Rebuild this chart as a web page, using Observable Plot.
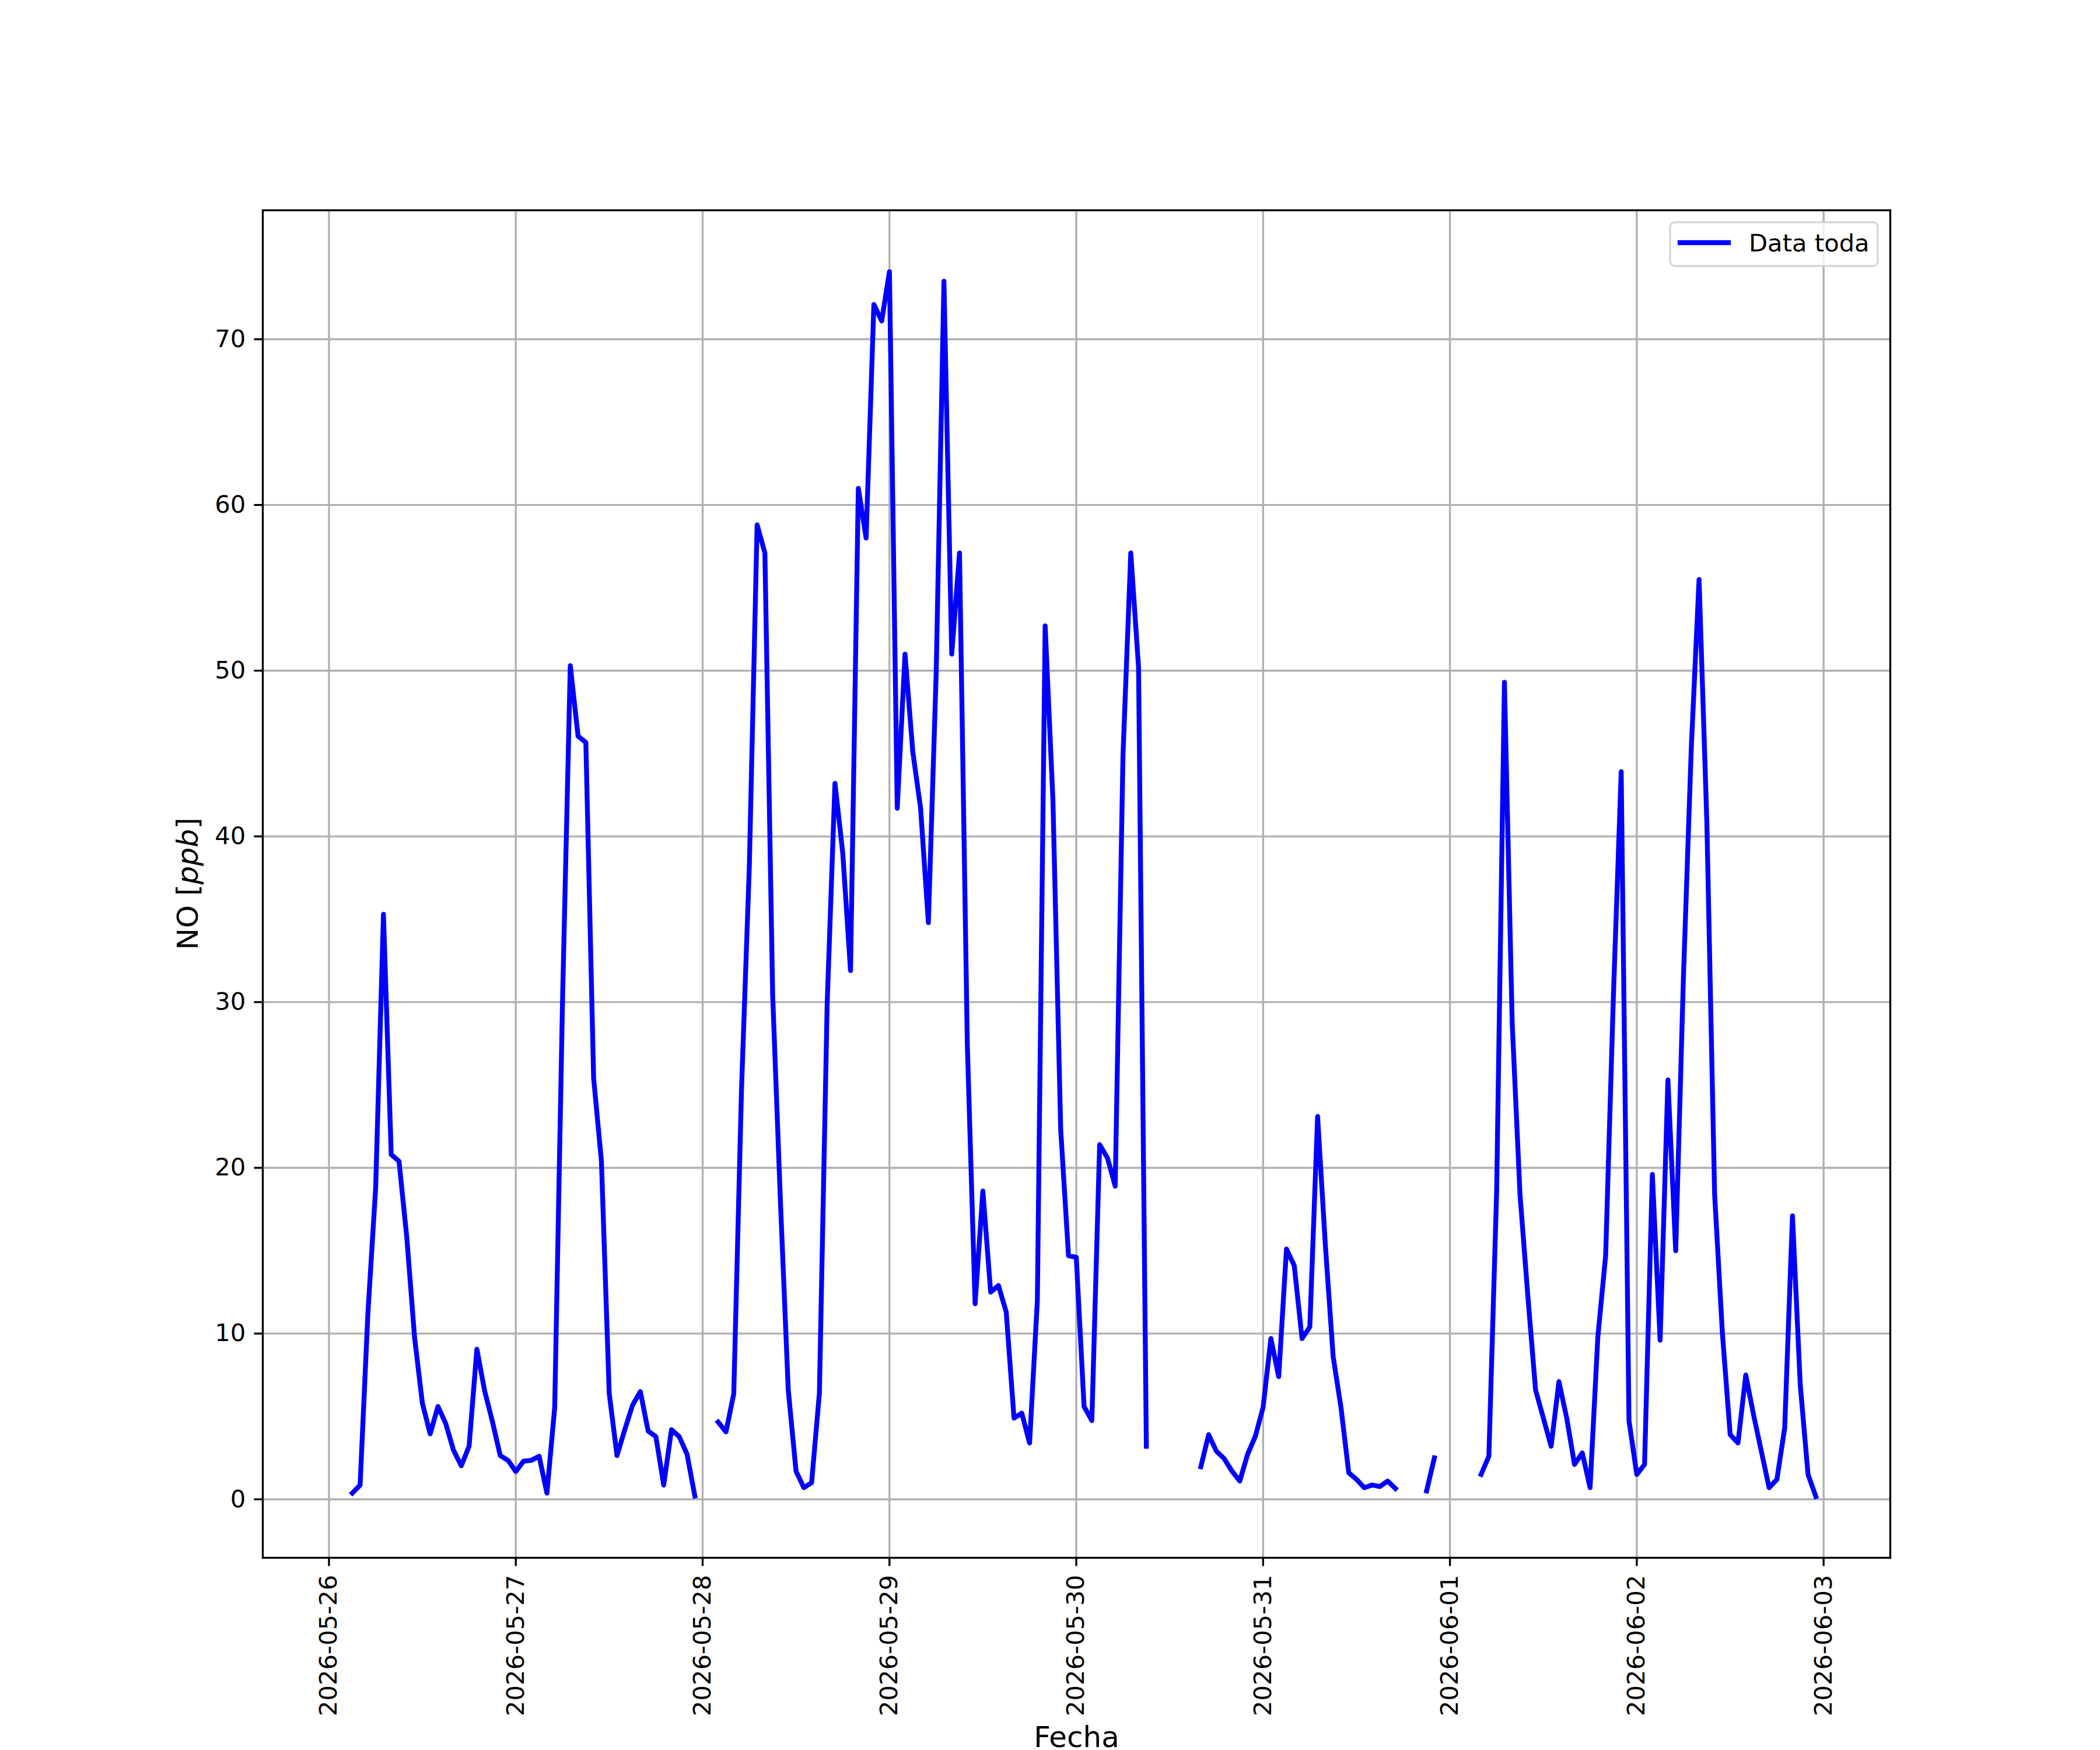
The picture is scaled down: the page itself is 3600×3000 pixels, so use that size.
<!DOCTYPE html>
<html>
<head>
<meta charset="utf-8">
<script src="https://cdn.jsdelivr.net/npm/d3@7"></script>
<script src="https://cdn.jsdelivr.net/npm/@observablehq/plot@0.6"></script>
<style>
  html, body { margin: 0; padding: 0; background: white; }
  #chart { width: 3600px; height: 3000px; position: relative; }
</style>
</head>
<body>
<div id="chart"></div>
<script>
// Hourly NO values (ppb), one array per day (hours 0..23), null = missing
const startDate = "2026-05-26T00:00:00Z";
const day0526 = [null, null, null, 0.37, 0.86, 11.2, 18.8, 35.3, 20.8, 20.4, 15.8, 9.75, 5.8, 3.95, 5.6, 4.57, 2.96, 2.02, 3.2, 9.06, 6.54, 4.69, 2.64, 2.35];
const day0527 = [1.68, 2.3, 2.35, 2.6, 0.37, 5.56, 30.0, 50.3, 46.05, 45.67, 25.4, 20.4, 6.4, 2.64, 4.2, 5.68, 6.5, 4.12, 3.78, 0.86, 4.2, 3.78, 2.72, 0.2];
const day0528 = [null, null, 4.66, 4.07, 6.37, 24.8, 38.2, 58.8, 57.1, 30.4, 17.9, 6.6, 1.7, 0.7, 1.0, 6.4, 29.9, 43.2, 39.0, 31.9, 61.0, 58.0, 72.1, 71.1];
const day0529 = [74.08, 41.7, 51.0, 45.1, 41.7, 34.8, 49.8, 73.5, 51.0, 57.1, 27.5, 11.8, 18.6, 12.5, 12.9, 11.3, 4.9, 5.2, 3.4, 12.0, 52.7, 42.2, 22.3, 14.7];
const day0530 = [14.6, 5.6, 4.75, 21.4, 20.6, 18.9, 44.9, 57.1, 50.2, 3.2, null, null, null, null, null, null, 1.96, 3.9, 2.9, 2.45, 1.7, 1.1, 2.7, 3.8];
const day0531 = [5.55, 9.7, 7.4, 15.1, 14.1, 9.7, 10.4, 23.1, 15.3, 8.6, 5.55, 1.6, 1.2, 0.7, 0.86, 0.77, 1.1, 0.65, null, null, null, 0.5, 2.5, null];
const day0601 = [null, null, null, null, 1.5, 2.6, 18.6, 49.3, 28.7, 18.4, 12.3, 6.6, 4.9, 3.2, 7.1, 4.9, 2.1, 2.8, 0.7, 9.8, 14.7, 30.4, 43.9, 4.75];
const day0602 = [1.5, 2.1, 19.6, 9.6, 25.3, 15.0, 31.6, 45.3, 55.5, 40.9, 18.4, 10.0, 3.9, 3.4, 7.5, 5.1, 2.9, 0.7, 1.2, 4.3, 17.1, 6.9, 1.5, 0.17];

const xTickDates = ["2026-05-26", "2026-05-27", "2026-05-28", "2026-05-29", "2026-05-30", "2026-05-31", "2026-06-01", "2026-06-02", "2026-06-03"];
const yTicks = [0, 10, 20, 30, 40, 50, 60, 70];
const xDomain = ["2026-05-25T15:30:00Z", "2026-06-03T08:34:00Z"];
const yDomain = [-3.53, 77.78];
const seriesName = "Data toda";
const xLabel = "Fecha";

const days = [day0526, day0527, day0528, day0529, day0530, day0531, day0601, day0602];
const t0 = new Date(startDate).getTime();
const rows = days.flatMap((vals, d) => vals.map((v, h) => ({
  date: new Date(t0 + (d * 24 + h) * 3600e3),
  value: v
})));
const dayTicks = xTickDates.map(s => new Date(s + "T00:00:00Z"));

const W = 3600, H = 3000;
const mL = 450, mR = 360, mT = 360, mB = 330;
const fs = 41.7, lfs = 50;
const lw = 3.33;

const plot = Plot.plot({
  width: W,
  height: H,
  marginLeft: mL,
  marginRight: mR,
  marginTop: mT,
  marginBottom: mB,
  style: { fontFamily: "'DejaVu Sans', sans-serif", fontSize: fs + "px", background: "white", color: "black", overflow: "visible" },
  x: { type: "utc", domain: xDomain.map(s => new Date(s)), label: null },
  y: { domain: yDomain, label: null },
  marks: [
    Plot.gridX(dayTicks, { stroke: "#b0b0b0", strokeOpacity: 1, strokeWidth: lw }),
    Plot.gridY(yTicks, { stroke: "#b0b0b0", strokeOpacity: 1, strokeWidth: lw }),
    Plot.line(rows, { x: "date", y: "value", stroke: "blue", strokeWidth: 8.33, strokeLinecap: "square", strokeLinejoin: "round" }),
    Plot.frame({ stroke: "black", strokeWidth: lw }),
    Plot.axisX(dayTicks, { tickFormat: d3.utcFormat("%Y-%m-%d"), tickRotate: -90, tickSize: 14.6, tickPadding: 14.6, strokeWidth: lw, fontSize: fs, label: null }),
    Plot.axisY(yTicks, { tickSize: 14.6, tickPadding: 14.6, strokeWidth: lw, fontSize: fs, label: null }),
    Plot.text([xLabel], { frameAnchor: "bottom", dy: 308, fontSize: lfs, lineAnchor: "middle", text: d => d })
  ]
});
document.getElementById("chart").appendChild(plot);

const svg = d3.select(plot);
// y-axis label with italic unit (mathtext style)
const yl = svg.append("text")
  .attr("transform", `translate(${mL - 129},${mT + (H - mT - mB) / 2}) rotate(-90)`)
  .attr("text-anchor", "middle")
  .attr("dy", "0.35em")
  .attr("font-size", lfs)
  .attr("font-family", "'DejaVu Sans', sans-serif")
  .attr("fill", "black");
yl.append("tspan").text("NO [");
yl.append("tspan").attr("font-style", "italic").text("ppb");
yl.append("tspan").text("]");

// legend (upper right inside the axes)
const lgX = W - mR - 21 - 356, lgY = mT + 21;
const lg = svg.append("g");
lg.append("rect")
  .attr("x", lgX).attr("y", lgY).attr("width", 356).attr("height", 75)
  .attr("rx", 8).attr("ry", 8)
  .attr("fill", "white").attr("fill-opacity", 0.8)
  .attr("stroke", "#cccccc").attr("stroke-opacity", 0.8).attr("stroke-width", lw);
lg.append("line")
  .attr("x1", lgX + 17).attr("x2", lgX + 100)
  .attr("y1", lgY + 35).attr("y2", lgY + 35)
  .attr("stroke", "blue").attr("stroke-width", 8.33).attr("stroke-linecap", "square");
lg.append("text")
  .attr("x", lgX + 135).attr("y", lgY + 50)
  .attr("text-anchor", "start")
  .attr("font-size", fs)
  .attr("font-family", "'DejaVu Sans', sans-serif")
  .attr("fill", "black")
  .text(seriesName);
</script>
</body>
</html>
